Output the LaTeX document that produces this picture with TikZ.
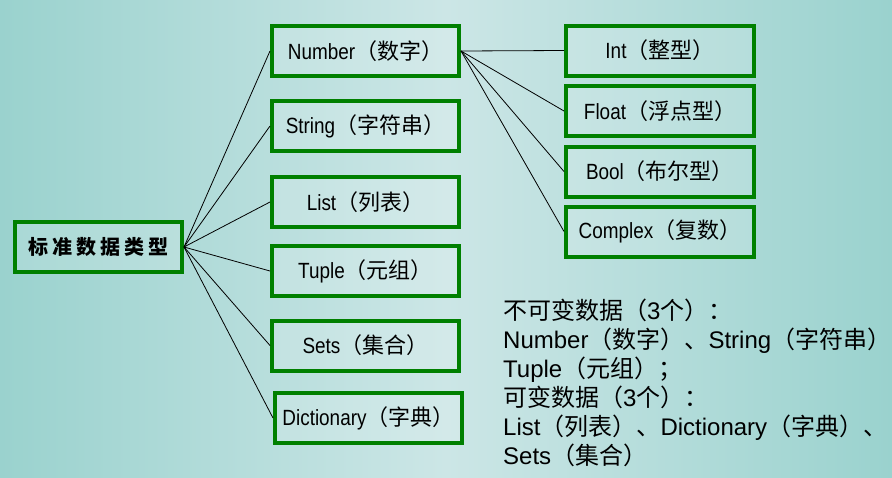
\documentclass[tikz,border=0pt]{standalone}
\usepackage{fontspec}
\setmainfont{Liberation Sans}
\newfontfamily\boxfont[FakeStretch=0.86]{Liberation Sans}
\newfontfamily\cjk{Noto Sans CJK SC}
\newfontfamily\cjkwide[LetterSpace=20]{Noto Sans CJK SC}
\usetikzlibrary{positioning}

\definecolor{boxgreen}{RGB}{0,128,0}
\definecolor{bgside}{RGB}{154,210,206}
\definecolor{bgmid}{RGB}{204,230,230}
\newcommand{\zh}[1]{{\cjk #1}}

\begin{document}
\begin{tikzpicture}[x=1pt, y=-1pt,
		typebox/.style={rectangle, draw=boxgreen, line width=4pt, fill=white, fill opacity=0.15, text opacity=1, minimum width=187pt, minimum height=50pt, inner sep=0pt, font=\boxfont\fontsize{22}{26}\selectfont},
		link/.style={draw=black, line width=0.8pt}]
		
		% background
		\shade[left color=bgside, right color=bgside, middle color=bgmid] (0,0) rectangle (892,477);
		\useasboundingbox (0,0) rectangle (892,477);
		
		\node[typebox, minimum width=167pt] (std) at (98.5,247) {{\cjkwide\bfseries\fontsize{20}{24}\selectfont 标准数据类型}};
		
		\node[typebox] (number) at (365.5,51) {Number\zh{（数字）}};
		\node[typebox] (string) at (365.5,126) {String\zh{（字符串）}};
		\node[typebox] (list) at (365.5,202) {List\zh{（列表）}};
		\node[typebox] (tuple) at (365.5,271) {Tuple\zh{（元组）}};
		\node[typebox] (sets) at (365.5,345.5) {Sets\zh{（集合）}};
		\node[typebox] (dict) at (368.5,418) {Dictionary\zh{（字典）}};
		
		\node[typebox, minimum width=188pt] (int) at (660,50.5) {Int\zh{（整型）}};
		\node[typebox, minimum width=188pt] (float) at (660,111) {Float\zh{（浮点型）}};
		\node[typebox, minimum width=188pt] (bool) at (660,171.5) {Bool\zh{（布尔型）}};
		\node[typebox, minimum width=188pt] (complex) at (660,231.5) {Complex\zh{（复数）}};
		
		\node[anchor=north west, inner sep=0pt, align=left, font=\fontsize{24}{29}\selectfont] (note) at (503,299)
			{\zh{不可变数据（}3\zh{个）：}\\
			 Number\zh{（数字）、}String\zh{（字符串）}\\
			 Tuple\zh{（元组）；}\\
			 \zh{可变数据（}3\zh{个）：}\\
			 List\zh{（列表）、}Dictionary\zh{（字典）、}\\
			 Sets\zh{（集合）}};
		
		\draw[link] (std.east) -- (number.west);
		\draw[link] (std.east) -- (string.west);
		\draw[link] (std.east) -- (list.west);
		\draw[link] (std.east) -- (tuple.west);
		\draw[link] (std.east) -- (sets.west);
		\draw[link] (std.east) -- (dict.west);
		
		\draw[link] (number.east) -- (int.west);
		\draw[link] (number.east) -- (float.west);
		\draw[link] (number.east) -- (bool.west);
		\draw[link] (number.east) -- (complex.west);
	\end{tikzpicture}
\end{document}
